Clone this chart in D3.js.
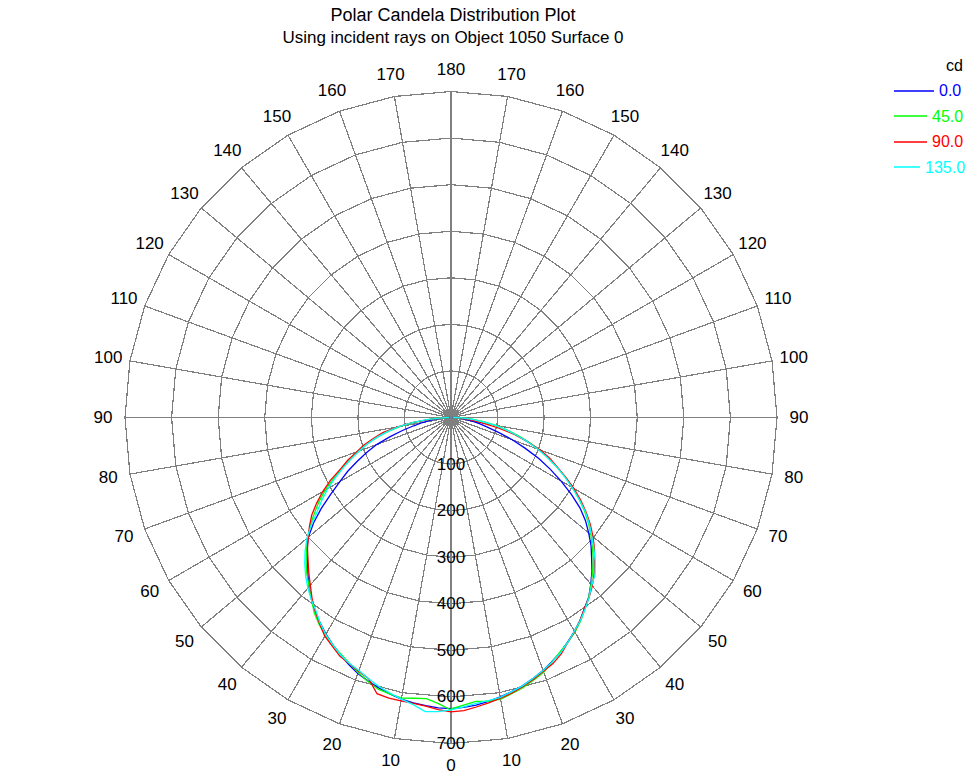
<!DOCTYPE html>
<html><head><meta charset="utf-8">
<script src="https://cdn.jsdelivr.net/npm/d3@7"></script>
<style>
html,body{margin:0;padding:0;background:#fff;}
svg{display:block;font-family:"Liberation Sans",Arial,sans-serif;}
</style></head>
<body><svg id="chart" width="968" height="776"></svg>
<script>
// ---- data ----
const titleLines = ["Polar Candela Distribution Plot", "Using incident rays on Object 1050 Surface 0"];
const legendTitle = "cd";
const seriesNames = ["0.0", "45.0", "90.0", "135.0"];
const seriesColors = ["#0000ff", "#00ff00", "#ff0000", "#00ffff"];
const polarAngles = [0,2.5,5,7.5,10,12.5,15,17.5,20,22.5,25,27.5,30,32.5,35,37.5,40,42.5,45,47.5,
                     50,52.5,55,57.5,60,62.5,65,67.5,70,72.5,75,77.5,80,82.5,85,87.5,90];
const ringValues = [100,200,300,400,500,600,700];
const angleTicks = [0,10,20,30,40,50,60,70,80,90,100,110,120,130,140,150,160,170,180];
// candela per vertical angle; "Right" = C plane, "Left" = C+180 plane
const c0Right   = [625,623,620,615,609,603,596,587,578,567,556,543,530,516,500,486,467,448,427,408,
                   386,364,338,306,273,240,208,172,140,108,82,64,48,34,22,11,3];
const c0Left    = [625,624,621,618,614,608,601,593,585,574,562,550,537,523,508,492,474,455,436,420,
                   400,372,340,306,276,250,222,196,170,138,108,82,62,44,28,14,3];
const c45Right  = [626,618,612,615,614,607,600,591,582,568,555,544,532,518,502,486,468,450,432,412,
                   392,372,350,326,302,276,250,225,200,174,148,122,98,72,48,24,4];
const c45Left   = [628,615,606,608,612,608,604,594,583,571,560,551,540,527,512,492,474,458,440,421,
                   402,381,358,336,312,285,258,234,210,188,165,138,112,80,50,24,4];
const c90Right  = [632,630,624,618,612,606,598,589,580,572,560,544,531,516,500,487,472,455,436,418,
                   398,377,354,330,305,278,252,230,205,172,142,104,68,48,32,16,4];
const c90Left   = [632,628,622,619,618,617,614,588,580,572,565,553,542,525,508,490,470,452,434,418,
                   400,383,365,342,318,292,262,240,215,196,172,150,118,84,42,20,4];
const c135Right = [628,622,616,613,610,603,596,587,578,568,557,544,530,517,502,487,470,458,438,416,
                   394,374,352,326,300,275,250,224,198,172,145,120,95,70,46,22,4];
const c135Left  = [628,632,634,622,614,606,598,588,578,571,562,550,538,523,506,493,478,462,444,425,
                   404,378,350,328,305,280,255,232,210,188,165,140,115,84,52,26,4];
const seriesRight = [c0Right, c45Right, c90Right, c135Right];
const seriesLeft  = [c0Left, c45Left, c90Left, c135Left];

// ---- layout ----
const cx = 451, cy = 417.5, R = 326;
const svg = d3.select("#chart");
const rad = d => d * Math.PI / 180;
const r = d3.scaleLinear().domain([0, 700]).range([0, R]);
const gridColor = "#808080";

// title
const titleSizes = [18, 17];
svg.append("g").selectAll("text").data(titleLines).join("text")
  .attr("x", cx + 2).attr("y", (d, i) => 21 + i * 22)
  .attr("text-anchor", "middle").attr("font-size", (d, i) => titleSizes[i]).attr("fill", "#000")
  .text(d => d);

const g = svg.append("g").attr("transform", `translate(${cx},${cy})`);

// spokes every 10 degrees
const spokes = d3.range(0, 360, 10);
g.append("g").attr("shape-rendering", "crispEdges").selectAll("line").data(spokes).join("line")
  .attr("x1", 0).attr("y1", 0)
  .attr("x2", d => d3.pointRadial(rad(d), R)[0])
  .attr("y2", d => d3.pointRadial(rad(d), R)[1])
  .attr("stroke", gridColor).attr("stroke-width", 1.2);

// rings as 36-gons
const ringLine = d3.lineRadial().angle(d => rad(d)).curve(d3.curveLinearClosed);
g.append("g").attr("shape-rendering", "crispEdges").selectAll("path").data(ringValues).join("path")
  .attr("d", v => ringLine.radius(r(v))(spokes))
  .attr("fill", "none").attr("stroke", gridColor).attr("stroke-width", 1.2);

// angle labels (0 at bottom, increasing both ways to 180 at top)
const labelR = R + 22;
const angleLabels = [];
angleTicks.forEach(a => {
  angleLabels.push({a: a, ang: Math.PI - rad(a)});
  if (a !== 0 && a !== 180) angleLabels.push({a: a, ang: Math.PI + rad(a)});
});
g.append("g").selectAll("text").data(angleLabels).join("text")
  .attr("x", d => d3.pointRadial(d.ang, labelR)[0])
  .attr("y", d => d3.pointRadial(d.ang, labelR)[1])
  .attr("text-anchor", "middle").attr("dominant-baseline", "central")
  .attr("font-size", 17).attr("fill", "#000")
  .text(d => d.a);

// radial value labels along the 0 spoke
g.append("g").selectAll("text").data(ringValues).join("text")
  .attr("x", 0).attr("y", v => r(v))
  .attr("text-anchor", "middle").attr("dominant-baseline", "central")
  .attr("font-size", 17).attr("fill", "#000")
  .text(v => v);

// curves
const curveLine = d3.lineRadial().angle(d => d.ang).radius(d => r(d.v));
seriesNames.forEach((name, i) => {
  const pts = [];
  for (let k = polarAngles.length - 1; k >= 0; k--) pts.push({ang: Math.PI + rad(polarAngles[k]), v: seriesLeft[i][k]});
  for (let k = 0; k < polarAngles.length; k++) pts.push({ang: Math.PI - rad(polarAngles[k]), v: seriesRight[i][k]});
  g.append("path").attr("d", curveLine(pts))
    .attr("fill", "none").attr("stroke", seriesColors[i]).attr("stroke-width", 1.3);
});

// legend
const lg = svg.append("g");
lg.append("text").attr("x", 946).attr("y", 65).attr("dominant-baseline", "central")
  .attr("font-size", 16).attr("fill", "#000").text(legendTitle);
seriesNames.forEach((name, i) => {
  const y = 90.5 + i * 25.5;
  const tx = 925 + (5 - name.length) * 7;
  lg.append("rect").attr("x", 894).attr("width", tx - 5 - 894).attr("y", Math.round(y) - 0.75).attr("height", 1.5)
    .attr("fill", seriesColors[i]);
  lg.append("text").attr("x", tx).attr("y", y).attr("dominant-baseline", "central")
    .attr("font-size", 16).attr("fill", seriesColors[i]).text(name);
});
</script></body></html>
